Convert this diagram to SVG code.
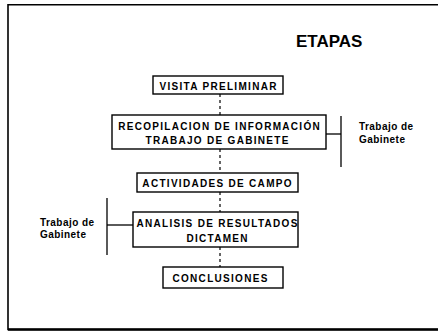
<svg xmlns="http://www.w3.org/2000/svg" width="438" height="332" viewBox="0 0 438 332">
  <style>
    .box { fill: #fff; stroke: #000; stroke-width: 1.4; }
    .lbl { font-family: "Liberation Sans", Arial, sans-serif; font-weight: bold; font-size: 10px; letter-spacing: 1.3px; text-anchor: middle; fill: #000; }
    .side { font-family: "Liberation Sans", Arial, sans-serif; font-weight: bold; font-size: 10px; letter-spacing: 0.45px; fill: #000; }
    .title { font-family: "Liberation Sans", Arial, sans-serif; font-weight: bold; font-size: 17px; fill: #000; }
    .dash { fill: none; stroke: #000; stroke-width: 1.2; stroke-dasharray: 3 3; }
    .brk { fill: none; stroke: #000; stroke-width: 1.3; }
  </style>
  <rect width="438" height="332" fill="#fff"/>
  <g id="frame">
    <path d="M438 4.8 H8 V329.5 H438" fill="none" stroke="#000" stroke-width="1.6"/>
    <line x1="8" y1="329.5" x2="438" y2="329.5" stroke="#000" stroke-width="2.6"/>
  </g>
  <g id="title">
    <text class="title" x="296" y="47">ETAPAS</text>
  </g>
  <g id="connectors">
    <line class="dash" x1="220" y1="94" x2="220" y2="115"/>
    <line class="dash" x1="220" y1="149" x2="220" y2="173"/>
    <line class="dash" x1="220" y1="192" x2="220" y2="212"/>
    <line class="dash" x1="220" y1="247" x2="220" y2="267"/>
    <line class="brk" x1="326" y1="134" x2="341" y2="134"/>
    <line class="brk" x1="341" y1="116" x2="341" y2="167"/>
    <line class="brk" x1="107" y1="225" x2="133" y2="225"/>
    <line class="brk" x1="107" y1="198" x2="107" y2="255"/>
  </g>
  <g id="visita">
    <rect class="box" x="153" y="76" width="130" height="18"/>
    <text class="lbl" x="218.6" y="90">VISITA PRELIMINAR</text>
  </g>
  <g id="recopilacion">
    <rect class="box" x="112" y="115" width="214" height="34"/>
    <text class="lbl" x="219.6" y="130">RECOPILACION DE INFORMACIÓN</text>
    <text class="lbl" x="217.6" y="144">TRABAJO DE GABINETE</text>
  </g>
  <g id="actividades">
    <rect class="box" x="137" y="173" width="161" height="19"/>
    <text class="lbl" x="217.6" y="187">ACTIVIDADES DE CAMPO</text>
  </g>
  <g id="analisis">
    <rect class="box" x="133" y="212" width="165" height="35"/>
    <text class="lbl" x="217.6" y="227">ANALISIS DE RESULTADOS</text>
    <text class="lbl" x="217.6" y="242">DICTAMEN</text>
  </g>
  <g id="conclusiones">
    <rect class="box" x="163" y="267" width="120" height="21"/>
    <text class="lbl" x="220.6" y="282">CONCLUSIONES</text>
  </g>
  <g id="gabinete-right">
    <text class="side" x="359" y="130">Trabajo de</text>
    <text class="side" x="359" y="143">Gabinete</text>
  </g>
  <g id="gabinete-left">
    <text class="side" x="40" y="226">Trabajo de</text>
    <text class="side" x="40" y="238">Gabinete</text>
  </g>
</svg>
